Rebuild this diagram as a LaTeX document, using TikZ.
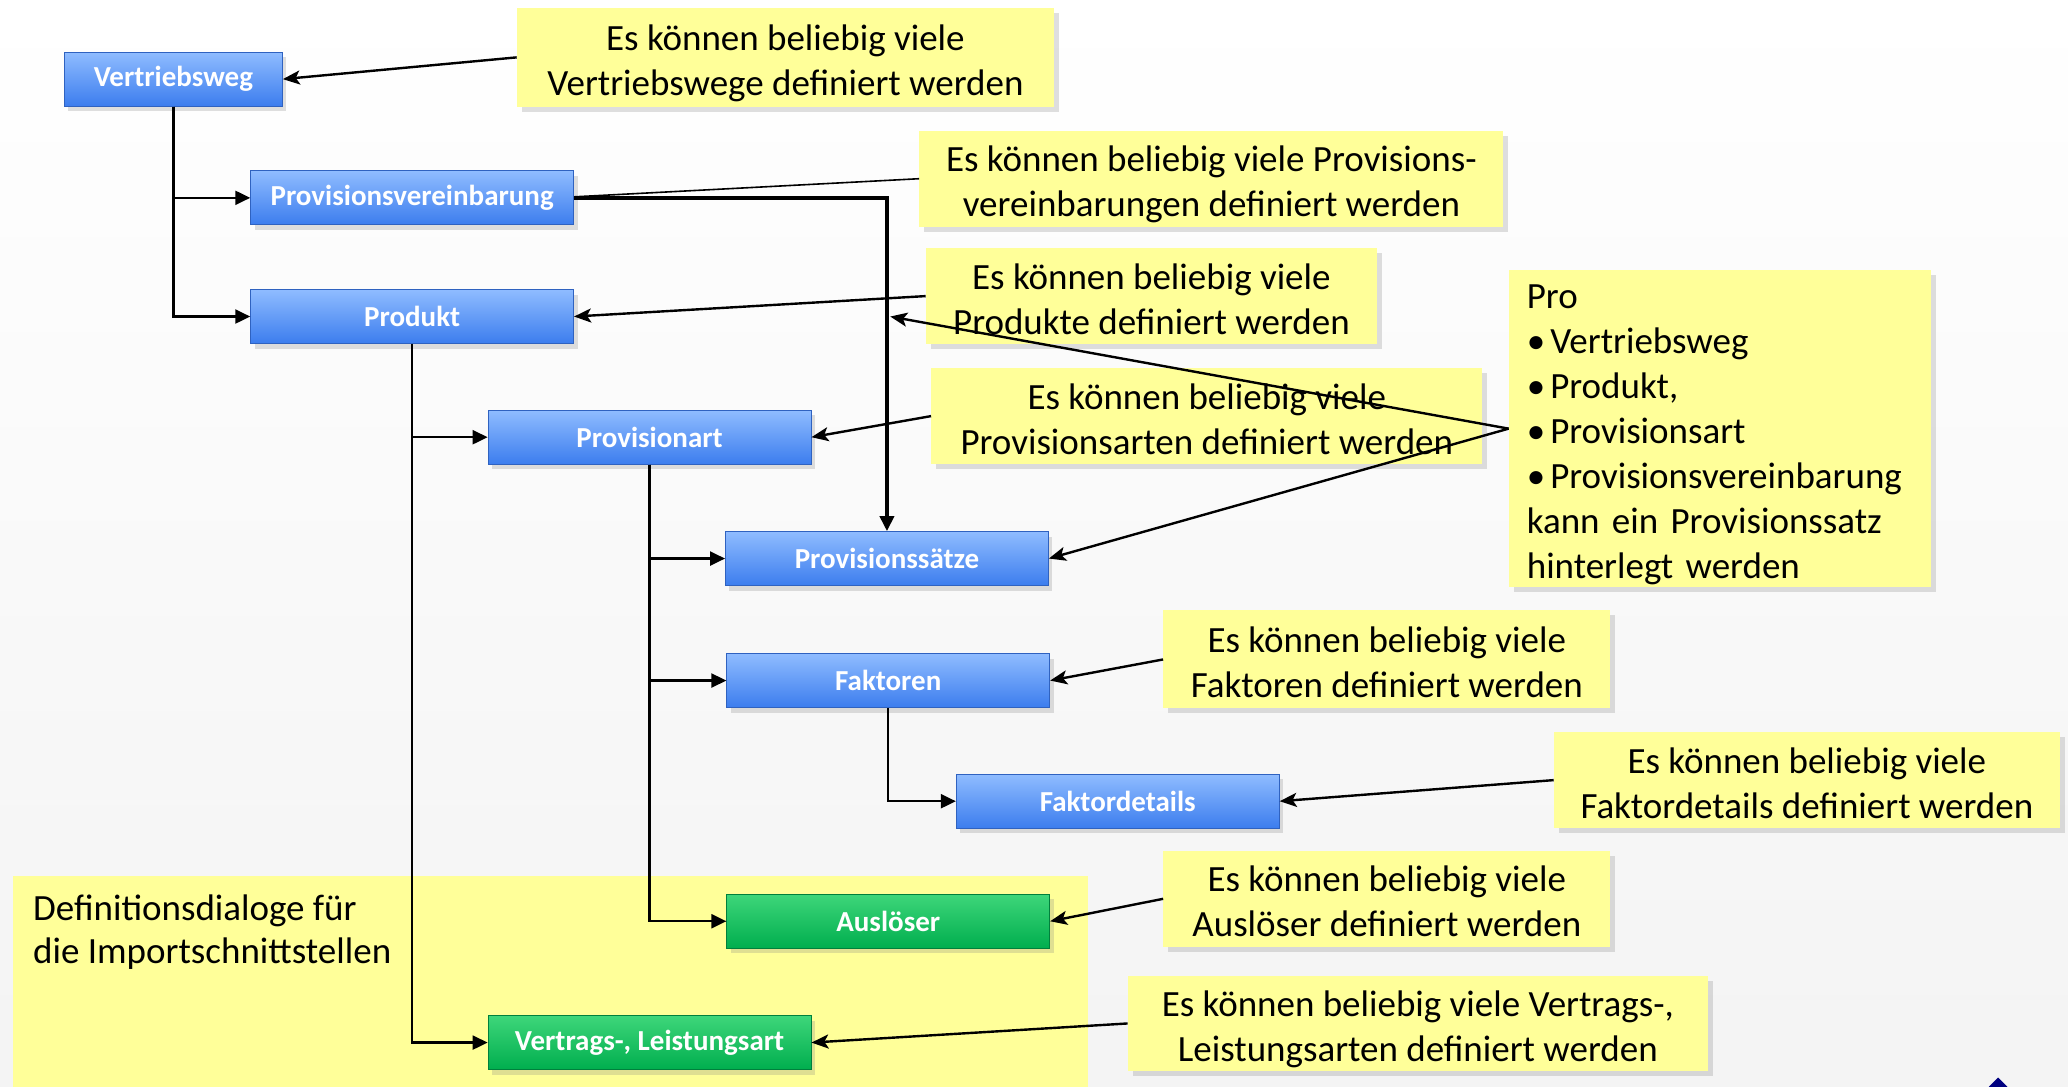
\documentclass[tikz,border=0pt]{standalone}
\usepackage{fontspec}
\setmainfont{Carlito}
\usetikzlibrary{arrows.meta,shadows}
\definecolor{boxtop}{HTML}{8FBCFF}
\definecolor{boxbot}{HTML}{3C7DEE}
\definecolor{boxborder}{HTML}{2F62C0}
\definecolor{gtop}{HTML}{3ED67A}
\definecolor{gbot}{HTML}{00AE4E}
\definecolor{gborder}{HTML}{00803C}
\definecolor{note}{HTML}{FFFF99}
\begin{document}
\begin{tikzpicture}[x=1.3189pt,y=-1.3189pt,
  bluebox/.style={draw=boxborder, line width=0.8pt, top color=boxtop, bottom color=boxbot,
    minimum width=323pt, minimum height=54pt, inner sep=0pt, text=white,
    font=\fontsize{29}{33}\selectfont\bfseries,
    drop shadow={shadow xshift=4pt, shadow yshift=-5pt, opacity=0.25}},
  greenbox/.style={bluebox, draw=gborder, top color=gtop, bottom color=gbot},
  notebase/.style={fill=note, inner sep=0pt, align=center,
    font=\fontsize{37}{45}\selectfont,
    drop shadow={shadow xshift=5pt, shadow yshift=-5pt, opacity=0.25}},
  callout/.style={notebase, text height=84pt, text depth=8pt},
  tree/.style={line width=2.2pt, -{Triangle[length=15pt,width=14pt]}},
  callarrow/.style={line width=2.4pt, -{Stealth[length=17pt,width=14pt,inset=4pt]}},
  thickline/.style={line width=3.6pt, -{Triangle[length=15pt,width=14pt]}}
]
% background
\shade[top color=white, bottom color=gray!9] (0,0) rectangle (1568,824);
\useasboundingbox (0,0) rectangle (1568,824);
% large import region
\fill[note] (10,664) rectangle (825,824);
\node[anchor=west, align=left, inner sep=0pt, font=\fontsize{37}{43}\selectfont] (imp) at (25,707)
  {Definitionsdialoge für\\die Importschnittstellen};
% small logo tip
\fill[blue!50!black] (1508,824) -- (1515,817) -- (1522,824) -- cycle;

% boxes
\node[bluebox, minimum width=218pt] (vw) at (131.5,60) {Vertriebsweg};
\node[bluebox] (pv) at (312.5,150) {Provisionsvereinbarung};
\node[bluebox] (prod) at (312.5,240) {Produkt};
\node[bluebox] (pa) at (492.5,331.5) {Provisionart};
\node[bluebox] (ps) at (672.5,423.5) {Provisionssätze};
\node[bluebox] (fk) at (673.5,516) {Faktoren};
\node[bluebox] (fd) at (847.5,607.5) {Faktordetails};
\node[greenbox] (al) at (673.5,698.5) {Auslöser};
\node[greenbox] (vl) at (492.5,790.5) {Vertrags-, Leistungsart};

% callouts
\node[callout, minimum width=537pt, minimum height=99pt] (c1) at (595.5,43.5)
  {Es können beliebig viele\\Vertriebswege definiert werden};
\node[callout, minimum width=584pt, minimum height=96pt] (c2) at (918.5,135.5)
  {Es können beliebig viele Provisions-\\vereinbarungen definiert werden};
\node[callout, minimum width=451pt, minimum height=96pt] (c3) at (873,224.5)
  {Es können beliebig viele\\Produkte definiert werden};
\node[callout, minimum width=551pt, minimum height=96pt] (c4) at (915,315.5)
  {Es können beliebig viele\\Provisionsarten definiert werden};
\node[notebase, minimum width=422pt, minimum height=317pt, inner xsep=18pt,
  text width=386pt, align=left,
  execute at begin node={\hyphenpenalty=10000\rule{0pt}{36pt}}] (c5) at (1304,325)
  {Pro\\•\kern5pt Vertriebsweg\\•\kern5pt Produkt,\\•\kern5pt Provisionsart\\•\kern5pt Provisionsvereinbarung\\kann ein Provisionssatz\\hinterlegt werden};
\node[callout, minimum width=447pt, minimum height=98pt] (c6) at (1051.5,500)
  {Es können beliebig viele\\Faktoren definiert werden};
\node[callout, minimum width=506pt, minimum height=96pt] (c7) at (1370,591.5)
  {Es können beliebig viele\\Faktordetails definiert werden};
\node[callout, minimum width=447pt, minimum height=96pt] (c8) at (1051.5,681.5)
  {Es können beliebig viele\\Auslöser definiert werden};
\node[callout, minimum width=580pt, minimum height=95pt] (c9) at (1075,776)
  {Es können beliebig viele Vertrags-,\\Leistungsarten definiert werden};

% tree connectors
\draw[tree] (vw.south) |- (pv.west);
\draw[tree] (vw.south) |- (prod.west);
\draw[tree] (prod.south) |- (pa.west);
\draw[tree] (prod.south) |- (vl.west);
\draw[tree] (pa.south) |- (ps.west);
\draw[tree] (pa.south) |- (fk.west);
\draw[tree] (pa.south) |- (al.west);
\draw[tree] (fk.south) |- (fd.west);
\draw[thickline] (pv.east) -| (ps.north);

% callout connectors
\coordinate (hit) at (675,240);
\draw[callarrow] (c1.west) -- (vw.east);
\draw[line width=1.6pt] (c2.west) -- ([yshift=1pt]pv.east);
\draw[callarrow] (c3.west) -- (prod.east);
\draw[callarrow] (c4.west) -- (pa.east);
\draw[callarrow] (c5.west) -- (hit);
\draw[callarrow] (c5.west) -- (ps.east);
\draw[callarrow] (c6.west) -- (fk.east);
\draw[callarrow] (c7.west) -- (fd.east);
\draw[callarrow] (c8.west) -- (al.east);
\draw[callarrow] (c9.west) -- (vl.east);
\end{tikzpicture}
\end{document}
